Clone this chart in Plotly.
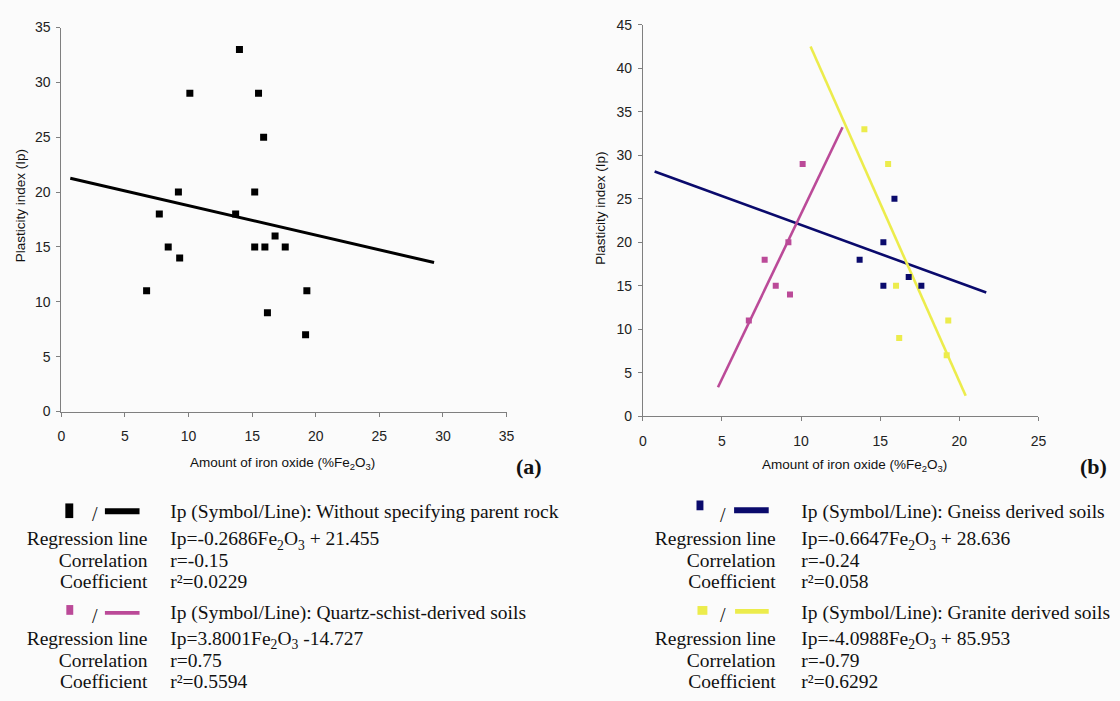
import plotly.graph_objects as go

W, H = 1120, 701

# ---------------- data ----------------
# Panel (a): all soils
all_fe = [6.7, 7.7, 8.4, 9.2, 9.3, 10.1, 13.7, 14.0, 15.2, 15.2, 15.5, 15.9, 16.0, 16.2, 16.8, 17.6, 19.2, 19.3]
all_ip = [11, 18, 15, 20, 14, 29, 18, 33, 20, 15, 29, 25, 15, 9, 16, 15, 7, 11]

# Panel (b): by parent rock
schist_fe = [6.7, 7.7, 8.4, 9.2, 9.3, 10.1]
schist_ip = [11, 18, 15, 20, 14, 29]
gneiss_fe = [13.7, 15.2, 15.2, 15.9, 16.8, 17.6]
gneiss_ip = [18, 20, 15, 25, 16, 15]
granite_fe = [14.0, 15.5, 16.0, 16.2, 19.2, 19.3]
granite_ip = [33, 29, 15, 9, 7, 11]

# regression lines: slope, intercept, x-extent
all_fit = (-0.2686, 21.455, [0.7, 29.3])
schist_fit = (3.8001, -14.727, [4.75, 12.62])
gneiss_fit = (-0.6647, 28.636, [0.75, 21.7])
granite_fit = (-4.0988, 85.953, [10.6, 20.4])

a_xticks = [0, 5, 10, 15, 20, 25, 30, 35]
a_yticks = [0, 5, 10, 15, 20, 25, 30, 35]
b_xticks = [0, 5, 10, 15, 20, 25]
b_yticks = [0, 5, 10, 15, 20, 25, 30, 35, 40, 45]

legend_left = [
    ("Ip (Symbol/Line): Without specifying parent rock", "Ip=-0.2686Fe<sub>2</sub>O<sub>3</sub> + 21.455", "r=-0.15", "r²=0.0229"),
    ("Ip (Symbol/Line): Quartz-schist-derived soils", "Ip=3.8001Fe<sub>2</sub>O<sub>3</sub> -14.727", "r=0.75", "r²=0.5594"),
]
legend_right = [
    ("Ip (Symbol/Line): Gneiss derived soils", "Ip=-0.6647Fe<sub>2</sub>O<sub>3</sub> + 28.636", "r=-0.24", "r²=0.058"),
    ("Ip (Symbol/Line): Granite derived soils", "Ip=-4.0988Fe<sub>2</sub>O<sub>3</sub> + 85.953", "r=-0.79", "r²=0.6292"),
]
row_labels = ["Regression line", "Correlation", "Coefficient"]

BLACK = "#000000"
MAGENTA = "#bb4a98"
NAVY = "#0a0a6c"
YELLOW = "#ecec4c"

def px(x):
    return x / W

def py(y):
    return 1 - y / H

fig = go.Figure()

def line_xy(fit):
    m, b, xs = fit
    return xs, [m * x + b for x in xs]

# Panel (a)
lx, ly = line_xy(all_fit)
fig.add_trace(go.Scatter(x=lx, y=ly, mode="lines", line=dict(color=BLACK, width=3), xaxis="x", yaxis="y"))
fig.add_trace(go.Scatter(x=all_fe, y=all_ip, mode="markers",
                         marker=dict(symbol="square", size=7, color=BLACK), xaxis="x", yaxis="y"))

# Panel (b)
for fit, col in [(gneiss_fit, NAVY), (schist_fit, MAGENTA), (granite_fit, YELLOW)]:
    lx, ly = line_xy(fit)
    fig.add_trace(go.Scatter(x=lx, y=ly, mode="lines", line=dict(color=col, width=2.6), xaxis="x2", yaxis="y2"))
for fe, ip, col in [(schist_fe, schist_ip, MAGENTA), (gneiss_fe, gneiss_ip, NAVY), (granite_fe, granite_ip, YELLOW)]:
    fig.add_trace(go.Scatter(x=fe, y=ip, mode="markers",
                             marker=dict(symbol="square", size=6, color=col), xaxis="x2", yaxis="y2"))

# Legend text block as text traces on a full-figure overlay axis (pixel space)
serif = dict(family="Liberation Serif, Times New Roman", size=19.5, color="#111111")
rows_y = [[517, 545, 567, 589], [620, 647, 669, 691]]
for entries, lab_right, val_left in [(legend_left, 145, 168), (legend_right, 780, 806)]:
    lab_x, lab_y, lab_t = [], [], []
    val_x, val_y, val_t = [], [], []
    for ei, entry in enumerate(entries):
        ys = rows_y[ei]
        val_x.append(val_left); val_y.append(ys[0]); val_t.append(entry[0])
        for k in range(3):
            lab_x.append(lab_right); lab_y.append(ys[k + 1]); lab_t.append(row_labels[k])
            val_x.append(val_left); val_y.append(ys[k + 1]); val_t.append(entry[k + 1])
    fig.add_trace(go.Scatter(x=lab_x, y=lab_y, text=lab_t, mode="text", textposition="middle left",
                             textfont=serif, xaxis="x3", yaxis="y3", hoverinfo="skip"))
    fig.add_trace(go.Scatter(x=val_x, y=val_y, text=val_t, mode="text", textposition="middle right",
                             textfont=serif, xaxis="x3", yaxis="y3", hoverinfo="skip"))

axis_common = dict(showgrid=False, zeroline=False, showline=True, linecolor="#7f7f7f", linewidth=1,
                   ticks="outside", ticklen=4, tickcolor="#7f7f7f",
                   tickfont=dict(family="Liberation Sans, Arial", size=14, color="#222222"))

fig.update_layout(
    width=W, height=H, margin=dict(l=0, r=0, t=0, b=0),
    paper_bgcolor="#fbfbfb", plot_bgcolor="rgba(0,0,0,0)", showlegend=False,
    xaxis=dict(domain=[px(58), px(508)], range=[0, 35], tickvals=a_xticks, anchor="y", ticklabelstandoff=8, **axis_common),
    yaxis=dict(domain=[py(413), py(20)], range=[0, 35], tickvals=a_yticks, anchor="x", ticklabelstandoff=3, **axis_common),
    xaxis2=dict(domain=[px(645.7), px(1045.7)], range=[0, 25], tickvals=b_xticks, anchor="y2", ticklabelstandoff=8, **axis_common),
    yaxis2=dict(domain=[py(417.7), py(17.3)], range=[0, 45], tickvals=b_yticks, anchor="x2", ticklabelstandoff=3, **axis_common),
    xaxis3=dict(domain=[0, 1], range=[0, W], visible=False, anchor="y3", fixedrange=True),
    yaxis3=dict(domain=[0, 1], range=[H, 0], visible=False, anchor="x3", fixedrange=True),
)

ann = []
sans = dict(family="Liberation Sans, Arial", size=13.5, color="#111111")

# axis titles
for x, y in [(17, 202), (603, 205)]:
    ann.append(dict(x=px(x), y=py(y), xref="paper", yref="paper", text="Plasticity index (Ip)",
                    textangle=-90, showarrow=False, font=sans, xanchor="center", yanchor="middle"))
for x, y in [(282, 466), (860, 468)]:
    ann.append(dict(x=px(x), y=py(y), xref="paper", yref="paper", text="Amount of iron oxide (%Fe<sub>2</sub>O<sub>3</sub>)",
                    showarrow=False, font=sans, xanchor="center", yanchor="middle"))
for x, y, t in [(531, 469, "(a)"), (1101, 469, "(b)")]:
    ann.append(dict(x=px(x), y=py(y), xref="paper", yref="paper", text="<b>%s</b>" % t,
                    showarrow=False, font=dict(family="Liberation Serif", size=22, color="#111111"),
                    xanchor="center", yanchor="middle"))

# legend symbols: square, "/", bar
symbols = [
    (BLACK, (62, 507, 70, 522), 92, 518, (102, 512, 137, 518)),
    (MAGENTA, (63, 611, 70, 621), 92, 622, (102, 617, 137, 621)),
    (NAVY, (700, 504, 707, 514), 727, 519, (738, 511, 773, 517)),
    (YELLOW, (701, 612, 711, 621), 727, 621, (739, 615, 773, 620)),
]
shapes = []
for col, sq, sx, sy, bar in symbols:
    shapes.append(dict(type="rect", xref="paper", yref="paper", x0=px(sq[0]), x1=px(sq[2]),
                       y0=py(sq[3]), y1=py(sq[1]), fillcolor=col, line=dict(width=0)))
    shapes.append(dict(type="rect", xref="paper", yref="paper", x0=px(bar[0]), x1=px(bar[2]),
                       y0=py(bar[3]), y1=py(bar[1]), fillcolor=col, line=dict(width=0)))
    ann.append(dict(x=px(sx), y=py(sy), xref="paper", yref="paper", text="/",
                    showarrow=False, font=dict(family="Liberation Serif", size=20, color="#111111"),
                    xanchor="center", yanchor="middle"))

fig.update_layout(annotations=ann, shapes=shapes)

fig.write_html("out.html", config={"displayModeBar": False},
               post_script="document.body.style.margin='0';document.body.style.overflow='hidden';")
